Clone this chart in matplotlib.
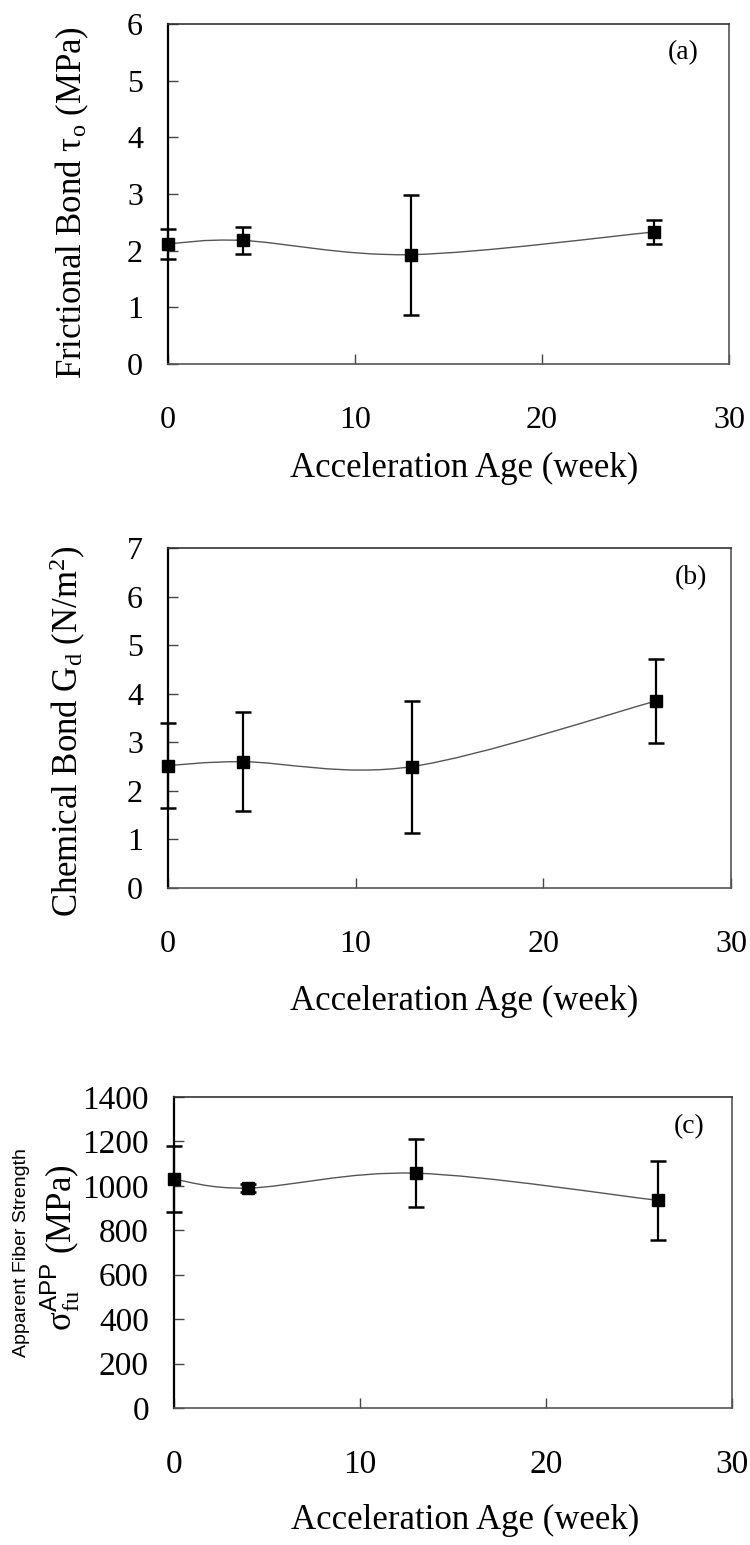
import numpy as np
import matplotlib
matplotlib.use("Agg")
import matplotlib.pyplot as plt
from matplotlib.path import Path
from matplotlib.patches import PathPatch

plt.rcParams['font.family'] = ['Liberation Serif', 'DejaVu Serif']
plt.rcParams['mathtext.fontset'] = 'custom'
plt.rcParams['mathtext.rm'] = 'Liberation Serif'
plt.rcParams['mathtext.it'] = 'Liberation Serif:italic'
plt.rcParams['mathtext.sf'] = 'Liberation Sans'

# ---- data ----
weeks = [0, 4, 13, 26]

frictional = [2.12, 2.18, 1.93, 2.33]
frictional_err = [0.26, 0.24, 1.06, 0.21]

chemical = [2.52, 2.60, 2.50, 3.85]
chemical_err = [0.87, 1.02, 1.36, 0.87]

strength = [1030, 990, 1057, 935]
strength_err = [148, 17, 153, 178]

xticks = [0, 10, 20, 30]
yticks_a = [0, 1, 2, 3, 4, 5, 6]
yticks_b = [0, 1, 2, 3, 4, 5, 6, 7]
yticks_c = [0, 200, 400, 600, 800, 1000, 1200, 1400]
xlabel = "Acceleration Age (week)"
ylabel_a = r"Frictional Bond τ$_\mathrm{o}$ (MPa)"
ylabel_b = r"Chemical Bond G$_\mathrm{d}$ (N/m$^\mathrm{2}$)"
ylabel_c1 = "Apparent Fiber Strength"
ylabel_c2 = r"σ$_\mathrm{fu}^{\mathsf{APP}}$ (MPa)"
tags = ["(a)", "(b)", "(c)"]

W, H = 750, 1545
fig = plt.figure(figsize=(W / 100, H / 100), dpi=100)


def ax_px(l, r, t, b):
    return [l / W, 1 - b / H, (r - l) / W, (b - t) / H]


def smooth_path(xs, ys):
    # Excel-like smoothed line through the data points (cubic Bezier)
    p = np.column_stack([xs, ys]).astype(float)
    n = len(p)
    verts = [p[0]]
    codes = [Path.MOVETO]
    for i in range(n - 1):
        p0 = p[i - 1] if i > 0 else p[i]
        p1 = p[i]
        p2 = p[i + 1]
        p3 = p[i + 2] if i + 2 < n else p[i + 1]
        c1 = p1 + (p2 - p0) / 6.0
        c2 = p2 - (p3 - p1) / 6.0
        verts += [c1, c2, p2]
        codes += [Path.CURVE4] * 3
    return Path(verts, codes)


def panel(rect, ys, errs, yticks, tag, tagpos, tick_fs, ms):
    ax = fig.add_axes(rect)
    ax.add_patch(PathPatch(smooth_path(weeks, ys), facecolor='none',
                           edgecolor='#555555', lw=1.0, zorder=2))
    cont = ax.errorbar(weeks, ys, yerr=errs, fmt='s', color='black', ms=ms,
                       ecolor='black', elinewidth=1.6, capsize=6,
                       capthick=1.8, zorder=3)
    for art in cont.get_children():
        art.set_clip_on(False)
    ax.set_xlim(0, 30)
    ax.set_ylim(yticks[0], yticks[-1])
    ax.set_xticks(xticks)
    ax.set_yticks(yticks)
    ax.tick_params(direction='in', length=7, width=1.0, color='#444444',
                   labelsize=tick_fs, top=False, right=False)
    ax.tick_params(axis='x', pad=30)
    ax.tick_params(axis='y', pad=18)
    for s in ax.spines.values():
        s.set_color('#555555')
        s.set_linewidth(1.2)
    ax.spines['left'].set_color('black')
    ax.spines['left'].set_linewidth(1.6)
    ax.spines['top'].set_color('#333333')
    ax.text(tagpos[0], tagpos[1], tag, transform=ax.transAxes,
            ha='center', va='center', fontsize=20)
    return ax


# (a)
axa = panel(ax_px(168, 729, 24, 364), frictional, frictional_err, yticks_a,
            tags[0], (0.918, 0.915), 23, 8.5)
axa.set_xlabel(xlabel, fontsize=25, va='center')
axa.xaxis.set_label_coords((464 - 168) / 561, -(468 - 364) / 340)
axa.set_ylabel(ylabel_a, fontsize=25, va='center')
axa.yaxis.set_label_coords((72 - 168) / 561, (364 - 203) / 340)

# (b)
axb = panel(ax_px(168, 731, 548, 888), chemical, chemical_err, yticks_b,
            tags[1], (0.929, 0.912), 23, 8.5)
axb.set_xlabel(xlabel, fontsize=25, va='center')
axb.xaxis.set_label_coords((464 - 168) / 563, -(1001 - 888) / 340)
axb.set_ylabel(ylabel_b, fontsize=25, va='center')
axb.yaxis.set_label_coords((68 - 168) / 563, (888 - 731) / 340)

# (c)
axc = panel(ax_px(174, 732, 1097, 1408), strength, strength_err, yticks_c,
            tags[2], (0.923, 0.904), 24, 8.5)
axc.set_xlabel(xlabel, fontsize=25, va='center')
axc.xaxis.set_label_coords((465 - 174) / 558, -(1520 - 1408) / 311)
fig.text(22 / W, 1 - 1253 / H, ylabel_c1, rotation=90, ha='center',
         va='center', fontsize=14, family=['Liberation Sans', 'DejaVu Sans'])
fig.text(60 / W, 1 - 1248 / H, ylabel_c2, rotation=90, ha='center',
         va='center', fontsize=25)

fig.savefig("out.png", dpi=100)
